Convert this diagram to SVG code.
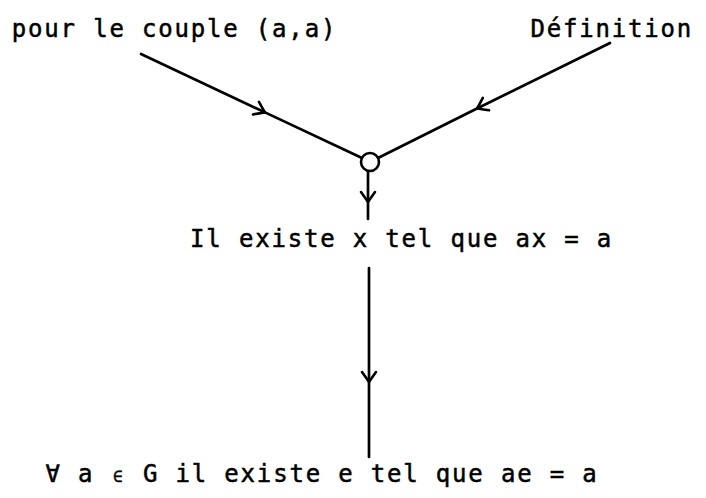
<svg xmlns="http://www.w3.org/2000/svg" width="706" height="498" viewBox="0 0 706 498">
  <defs>
    <style>
      .t { font-family: "DejaVu Sans Mono", "Liberation Mono", monospace; font-size: 24px; letter-spacing: 1.82px; fill: #000; stroke: #000; stroke-width: 0.5px; }
      .ln { fill: none; stroke: #000; stroke-width: 2.7; stroke-linecap: round; }
    </style>
    <marker id="arr" markerUnits="userSpaceOnUse" markerWidth="24" markerHeight="24" refX="0" refY="0" viewBox="-12 -12 24 24" orient="auto" overflow="visible">
      <path d="M-10,-7 Q-3,-2 0,0 Q-3,2 -10,7" fill="none" stroke="#000" stroke-width="2.6" stroke-linecap="round"/>
    </marker>
  </defs>
  <rect width="706" height="498" fill="#fff"/>

  <g id="connectors">
    <polyline class="ln" points="141,54 265,112.4 362,158" marker-mid="url(#arr)"/>
    <polyline class="ln" points="610,43 477,108.5 378,158" marker-mid="url(#arr)"/>
    <polyline class="ln" points="368,171 368,202 368,219" marker-mid="url(#arr)"/>
    <polyline class="ln" points="369,268 369,382 369,457" marker-mid="url(#arr)"/>
  </g>

  <g id="junction">
    <circle cx="370" cy="162" r="9" fill="#fff" stroke="#000" stroke-width="2.6"/>
  </g>

  <g id="n-couple">
    <text class="t" x="11.8" y="37">pour le couple (a,a)</text>
  </g>
  <g id="n-definition">
    <text class="t" x="530.4" y="37">Définition</text>
  </g>
  <g id="n-existe-x">
    <text class="t" x="190.1" y="247">Il existe x tel que ax = a</text>
  </g>
  <g id="n-existe-e">
    <text class="t" x="45.4" y="482">∀ a <tspan font-size="16" dx="2.4">∈</tspan><tspan dx="2.4"> G il existe e tel que ae = a</tspan></text>
  </g>
</svg>
